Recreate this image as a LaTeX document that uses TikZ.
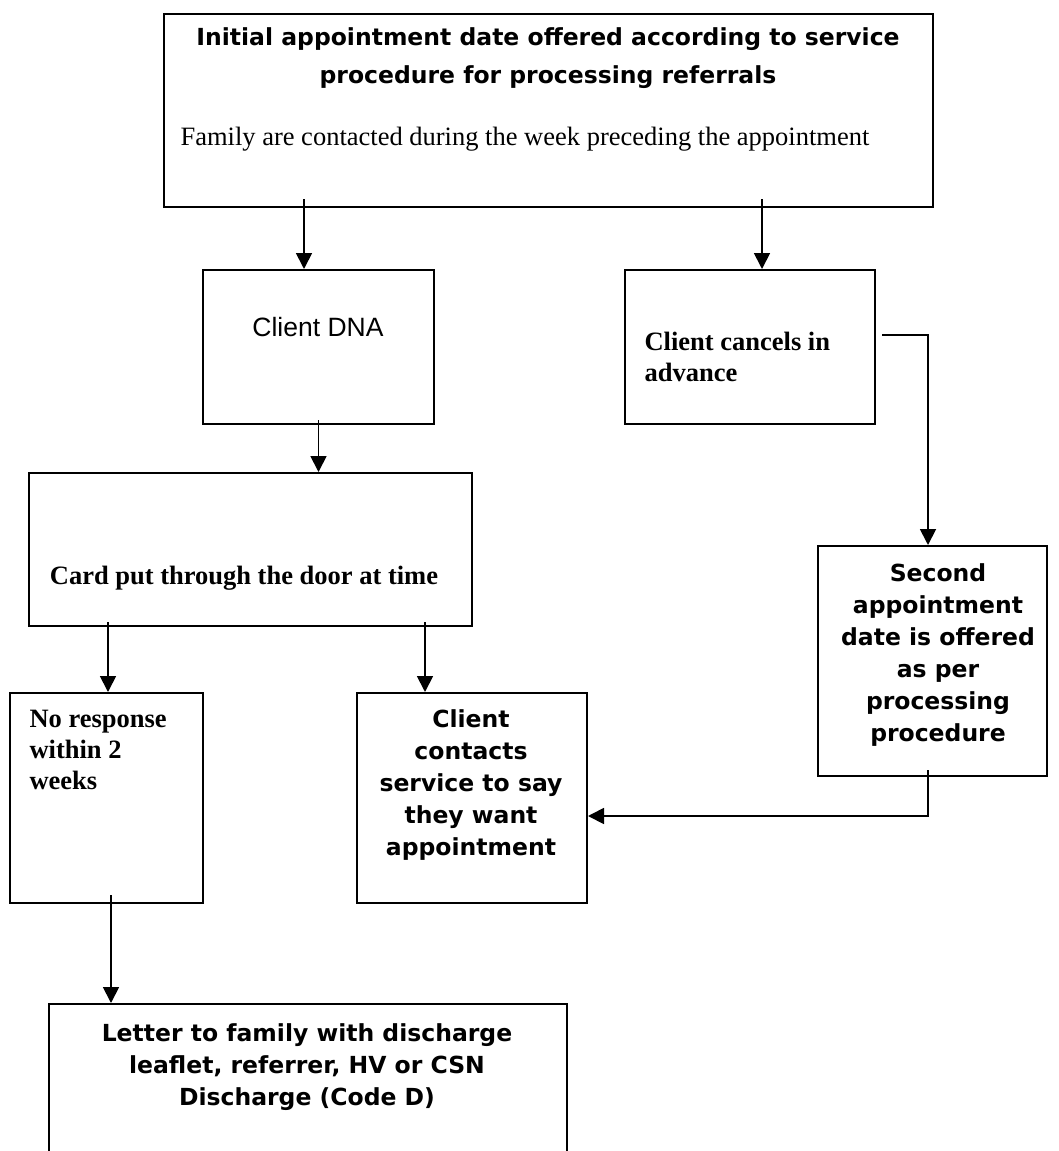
\documentclass[tikz,border=0pt]{standalone}
\usepackage{fontspec}
\setmainfont{Liberation Serif}
\newfontfamily\verd{DejaVu Sans}
\newfontfamily\arialf{Liberation Sans}
\usetikzlibrary{calc,arrows.meta}
\tikzset{
  box/.style={draw,line width=2pt,inner sep=0pt,anchor=north west},
  flow/.style={line width=1.8pt,-{Triangle[width=16pt,length=16pt]}},
  boldsans/.style={font=\verd\bfseries\fontsize{23.5}{32}\selectfont,align=center},
  boldserif/.style={font=\bfseries\fontsize{26.5}{30.5}\selectfont,align=left},
}
\begin{document}
\begin{tikzpicture}[x=1pt,y=-1pt]
  \useasboundingbox (0,0) rectangle (1058,1151);
  % boxes
  \node[box,minimum width=769pt,minimum height=193pt] (init) at (163,13) {};
  \node[box,minimum width=231pt,minimum height=154pt] (dna) at (202,269) {};
  \node[box,minimum width=250pt,minimum height=154pt] (cancel) at (624,269) {};
  \node[box,minimum width=443pt,minimum height=153pt] (card) at (28,472) {};
  \node[box,minimum width=229pt,minimum height=230pt] (second) at (817,545) {};
  \node[box,minimum width=193pt,minimum height=210pt] (noresp) at (9,692) {};
  \node[box,minimum width=230pt,minimum height=210pt] (contact) at (356,692) {};
  \node[box,minimum width=518pt,minimum height=170pt] (letter) at (48,1003) {};
  % texts
  \node[boldsans,font=\verd\bfseries\fontsize{23.5}{38}\selectfont] (t-init) at (548,58)
    {Initial appointment date offered according to service\\procedure for processing referrals};
  \node[font=\fontsize{26.5}{30}\selectfont,anchor=west] (t-family) at (177,139)
    {Family are contacted during the week preceding the appointment};
  \node[font=\arialf\fontsize{26.5}{30}\selectfont] (t-dna) at (318,327) {Client DNA};
  \node[boldserif,anchor=north west] (t-cancel) at (641,329) {Client cancels in\\advance};
  \node[boldserif] (t-card) at (244,578) {Card put through the door at time};
  \node[boldserif,anchor=north west,font=\bfseries\fontsize{26.5}{31}\selectfont] (t-noresp) at (26,707)
    {No response\\within 2\\weeks};
  \node[boldsans] (t-contact) at (471,785) {Client\\contacts\\service to say\\they want\\appointment};
  \node[boldsans] (t-second) at (938,655) {Second\\appointment\\date is offered\\as per\\processing\\procedure};
  \node[boldsans] (t-letter) at (307,1067) {Letter to family with discharge\\leaflet, referrer, HV or CSN\\Discharge (Code D)};
  % connectors
  \coordinate (a1) at (304,0);
  \coordinate (a2) at (762,0);
  \coordinate (a3) at (108,0);
  \coordinate (a4) at (425,0);
  \coordinate (a5) at (111,0);
  \coordinate (r1) at (928,335);
  \coordinate (r2) at (928,816);
  \draw[flow] ($(init.south -| a1)+(0,-9)$) -- (dna.north -| a1);
  \draw[flow] ($(init.south -| a2)+(0,-9)$) -- (cancel.north -| a2);
  \draw[flow] ($(dna.south)+(0,-5)$) -- (card.north -| dna.south);
  \draw[flow] ($(card.south -| a3)+(0,-5)$) -- (noresp.north -| a3);
  \draw[flow] ($(card.south -| a4)+(0,-5)$) -- (contact.north -| a4);
  \draw[flow] ($(cancel.east |- r1)+(6,0)$) -- (r1) -- (second.north -| r1);
  \draw[flow] ($(second.south -| r1)+(0,-7)$) -- (r2) -- (contact.east |- r2);
  \draw[flow] ($(noresp.south -| a5)+(0,-9)$) -- (letter.north -| a5);
\end{tikzpicture}
\end{document}
